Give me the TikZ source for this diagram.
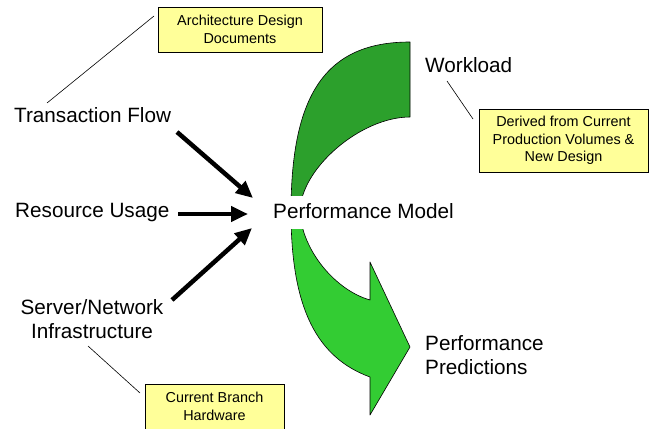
\documentclass[tikz,border=0pt]{standalone}
\usepackage{fontspec}
\setmainfont{Liberation Sans}
\usetikzlibrary{arrows.meta}
\definecolor{arcdark}{HTML}{2CA02C}
\definecolor{arclight}{HTML}{33CC33}
\definecolor{notefill}{HTML}{FFFF99}
\tikzset{
  bigtext/.style={font=\fontsize{20.7}{24}\selectfont, inner sep=0pt},
  notebox/.style={draw=black, line width=0.6pt, fill=notefill, align=center,
                  font=\fontsize{14.4}{17.5}\selectfont, inner sep=0pt},
  feed/.style={line width=4.5pt, -{Triangle[length=17pt,width=15pt]}},
  leader/.style={line width=0.6pt},
  arcshape/.style={draw=black, line width=0.6pt, line join=round}
}
\begin{document}
\begin{tikzpicture}[x=1pt,y=-1pt]
\useasboundingbox (0,0) rectangle (650,428);

% upper (workload) half of the curved arrow
\path[arcshape, fill=arcdark]
  (410,42) -- (410,117)
  .. controls (360.5,117) and (300,169) .. (300,212)
  -- (291,212)
  .. controls (291,93) and (326.7,42) .. (410,42) -- cycle;

% lower (predictions) half with its arrow head
\path[arcshape, fill=arclight]
  (291,212) .. controls (291,310) and (318,358) .. (370,377)
  -- (370,415) -- (410,347) -- (370,262) -- (370,300)
  .. controls (335,290) and (302,250) .. (300,212) -- cycle;

% labels
\node[bigtext, anchor=base west] (tflow) at (14,122) {Transaction Flow};
\node[bigtext, anchor=base west] (rusage) at (15,217) {Resource Usage};
\node[bigtext, align=center] (infra) at (92,319) {Server/Network\\Infrastructure};
\node[bigtext, anchor=base west] (workload) at (425,72) {Workload};
\node[bigtext, align=left, anchor=west] (pred) at (425,355) {Performance\\Predictions};
\node[bigtext, anchor=base west, fill=white, inner xsep=1.5pt,
      text height=22pt, text depth=11pt] (model) at (271.5,218) {Performance Model};

% note boxes
\node[notebox, minimum width=164pt, minimum height=45pt] (archdoc) at (240,29.5)
  {Architecture Design\\Documents};
\node[notebox, minimum width=169pt, minimum height=63pt] (derived) at (563.5,140.5)
  {Derived from Current\\Production Volumes \&\\New Design};
\node[notebox, minimum width=139pt, minimum height=45pt] (hw) at (214.5,406.5)
  {Current Branch\\Hardware};

% leader lines from labels to notes
\coordinate (tfTail) at (47,103);
\coordinate (archTail) at (154,16);
\coordinate (wlTail) at (447,81);
\coordinate (drTail) at (473,119);
\coordinate (inTail) at (88,346);
\coordinate (hwTail) at (140,393);
\draw[leader] (tfTail) -- (archTail);
\draw[leader] (wlTail) -- (drTail);
\draw[leader] (inTail) -- (hwTail);

% inputs into the model
\coordinate (f1s) at (177,132);
\coordinate (f1e) at (253,198);
\coordinate (f2s) at (178,214);
\coordinate (f2e) at (248,214);
\coordinate (f3s) at (172,300);
\coordinate (f3e) at (252,228);
\draw[feed] (f1s) -- (f1e);
\draw[feed] (f2s) -- (f2e);
\draw[feed] (f3s) -- (f3e);
\end{tikzpicture}
\end{document}
